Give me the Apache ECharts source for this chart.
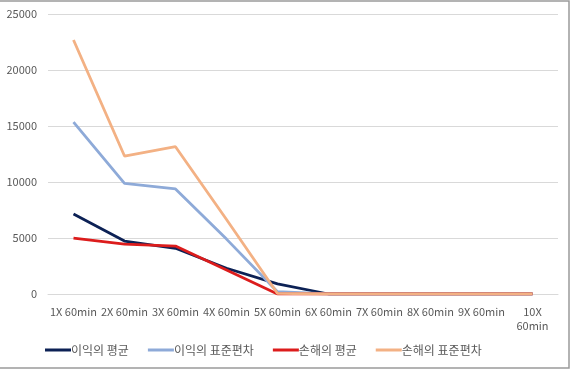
<!DOCTYPE html>
<html><head><meta charset="utf-8">
<script src="https://cdn.jsdelivr.net/npm/echarts@6/dist/echarts.min.js"></script>
<style>html,body{margin:0;padding:0;background:#fff}#c{width:572px;height:370px}</style>
</head><body><div id="c"></div>
<script>
const categories = ['1X 60min','2X 60min','3X 60min','4X 60min','5X 60min','6X 60min','7X 60min','8X 60min','9X 60min','10X 60min'];
const profitMean = [7150, 4730, 4080, 2300, 900, 0, 0, 0, 0, 0];
const profitStd = [15350, 9880, 9380, 4900, 200, 0, 0, 0, 0, 0];
const lossMean = [4980, 4460, 4280, 2150, 0, 0, 0, 0, 0, 0];
const lossStd = [22680, 12320, 13150, 6650, 50, 0, 0, 0, 0, 0];
const seriesNames = ['이익의 평균','이익의 표준편차','손해의 평균','손해의 표준편차'];
const yTicks = [0, 5000, 10000, 15000, 20000, 25000];

const font = '"Noto Sans CJK KR","Noto Sans",sans-serif';
const colors = ['#0c2155','#8eaad8','#dc1c1c','#f3b184'];
const chart = echarts.init(document.getElementById('c'));
const mk = (name, data, i) => ({
  name, type: 'line', data, symbol: 'none', smooth: false,
  lineStyle: {width: 2.8, color: colors[i]}, itemStyle: {color: colors[i]}
});
chart.setOption({
  animation: false,
  backgroundColor: '#fff',
  grid: {left: 48, right: 14, top: 14, bottom: 76},
  legend: {
    bottom: 9, left: 40, itemWidth: 26, itemHeight: 3, itemGap: 19,
    icon: 'rect',
    textStyle: {color: '#595959', fontSize: 12, fontFamily: font, padding: [0,0,0,-5]},
    data: seriesNames
  },
  xAxis: {
    type: 'category', data: categories, boundaryGap: true,
    axisLine: {show: true, lineStyle: {color: '#d9d9d9', width: 1}},
    axisTick: {show: false},
    axisLabel: {interval: 0, color: '#595959', fontSize: 11, fontFamily: font, margin: 11, lineHeight: 14,
      formatter: v => v.length > 8 ? v.replace(' ', '\n') : v}
  },
  yAxis: {
    type: 'value', min: yTicks[0], max: yTicks[yTicks.length-1], interval: 5000,
    axisLine: {show: false}, axisTick: {show: false},
    splitLine: {lineStyle: {color: '#d9d9d9', width: 1}},
    axisLabel: {color: '#595959', fontSize: 11, fontFamily: font, margin: 11, formatter: v => String(v)}
  },
  series: [mk(seriesNames[0], profitMean, 0), mk(seriesNames[1], profitStd, 1), mk(seriesNames[2], lossMean, 2), mk(seriesNames[3], lossStd, 3)],
  graphic: [{type: 'rect', shape: {x: -2, y: 1, width: 571, height: 367}, style: {fill: 'none', stroke: '#9a9a9a', lineWidth: 1.5}, silent: true}]
});
</script></body></html>
